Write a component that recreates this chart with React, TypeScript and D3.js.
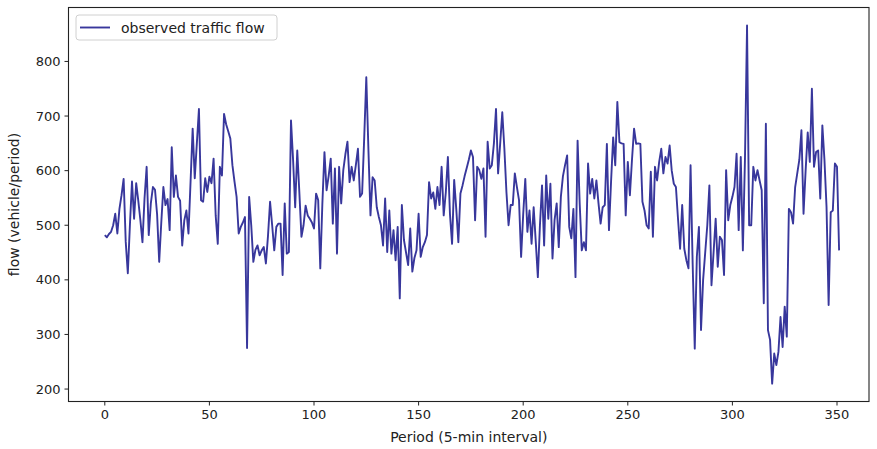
import React from "react";
import * as d3 from "d3";

const flow: number[] = [
  482, 478, 484, 488, 500, 521, 485, 530, 555, 585,
  470, 412, 500, 580, 512, 577, 545, 510, 469, 550,
  607, 482, 540, 570, 565, 520, 433, 505, 570, 537,
  548, 491, 643, 552, 591, 552, 545, 463, 509, 527,
  485, 580, 677, 586, 650, 713, 546, 543, 586, 561,
  589, 577, 622, 518, 466, 607, 591, 704, 685, 672,
  659, 610, 580, 552, 485, 497, 505, 515, 275, 552,
  500, 433, 455, 463, 445, 454, 460, 430, 480, 543,
  500, 454, 497, 503, 503, 409, 540, 448, 451, 692,
  620, 533, 637, 560, 479, 500, 536, 518, 512, 505,
  494, 558, 546, 421, 540, 634, 564, 590, 622, 503,
  604, 448, 607, 540, 601, 630, 653, 579, 607, 582,
  610, 640, 552, 558, 660, 771, 640, 518, 588, 582,
  533, 515, 500, 463, 549, 451, 527, 448, 491, 436,
  497, 366, 537, 473, 450, 427, 494, 415, 440, 454,
  521, 442, 460, 469, 482, 579, 549, 560, 530, 570,
  537, 607, 518, 560, 625, 520, 466, 583, 530, 469,
  558, 573, 590, 605, 620, 637, 625, 509, 607, 601,
  585, 604, 479, 653, 604, 610, 650, 713, 595, 650,
  707, 640, 560, 500, 537, 537, 595, 570, 546, 442,
  520, 585, 488, 527, 466, 533, 470, 405, 500, 573,
  463, 591, 512, 576, 439, 510, 540, 460, 552, 590,
  610, 628, 497, 476, 530, 405, 655, 540, 454, 469,
  454, 613, 558, 585, 549, 582, 540, 503, 533, 537,
  649, 491, 580, 661, 610, 726, 652, 650, 649, 518,
  616, 555, 620, 677, 649, 650, 649, 543, 527, 500,
  494, 598, 479, 607, 582, 616, 640, 595, 625, 613,
  646, 600, 576, 570, 512, 457, 537, 457, 436, 421,
  610, 430, 274, 442, 497, 308, 400, 450, 500, 573,
  390, 450, 512, 424, 479, 473, 409, 601, 509, 537,
  552, 570, 631, 491, 625, 454, 620, 866, 500, 500,
  607, 582, 601, 582, 564, 357, 686, 308, 290, 210,
  265, 244, 268, 332, 277, 351, 296, 530, 524, 503,
  570, 595, 620, 674, 521, 600, 670, 616, 750, 607,
  634, 637, 549, 683, 620, 533, 354, 524, 527, 613,
  607, 454,
];

const xTicks = [0, 50, 100, 150, 200, 250, 300, 350];
const yTicks = [200, 300, 400, 500, 600, 700, 800];
const seriesName = "observed traffic flow";
const xLabel = "Period (5-min interval)";
const yLabel = "flow (vehicle/period)";

export default function App() {
  const W = 877;
  const H = 449;
  const left = 68.5;
  const right = 869;
  const top = 7.5;
  const bottom = 401.5;

  const x = d3.scaleLinear().domain([0, 350]).range([104.8, 837]);
  const yMin = d3.min(flow)!;
  const yMax = d3.max(flow)!;
  const pad = (yMax - yMin) * 0.05;
  const y = d3.scaleLinear().domain([yMin - pad, yMax + pad]).range([bottom, top]);

  const line = d3
    .line<number>()
    .x((_, i) => x(i))
    .y((d) => y(d));

  const font = "'DejaVu Sans', sans-serif";
  const color = "#38379c";

  return (
    <svg
      width={W}
      height={H}
      style={{ position: "absolute", left: 0, top: 0, background: "#fff" }}
      fontFamily={font}
    >
      <defs>
        <clipPath id="plot">
          <rect x={left} y={top} width={right - left} height={bottom - top} />
        </clipPath>
      </defs>
      <path
        d={line(flow) ?? ""}
        fill="none"
        stroke={color}
        strokeWidth={1.9}
        strokeLinejoin="round"
        clipPath="url(#plot)"
      />
      <rect
        x={left}
        y={top}
        width={right - left}
        height={bottom - top}
        fill="none"
        stroke="#222"
        strokeWidth={1.1}
      />
      {xTicks.map((t) => (
        <g key={`x${t}`}>
          <line x1={x(t)} x2={x(t)} y1={bottom} y2={bottom + 4} stroke="#222" strokeWidth={1} />
          <text x={x(t)} y={bottom + 17.5} fontSize={13} textAnchor="middle" fill="#222">
            {t}
          </text>
        </g>
      ))}
      {yTicks.map((t) => (
        <g key={`y${t}`}>
          <line x1={left - 4} x2={left} y1={y(t)} y2={y(t)} stroke="#222" strokeWidth={1} />
          <text x={left - 8} y={y(t) + 4.5} fontSize={13} textAnchor="end" fill="#222">
            {t}
          </text>
        </g>
      ))}
      <text
        x={(left + right) / 2}
        y={442}
        fontSize={14}
        textAnchor="middle"
        fill="#222"
      >
        {xLabel}
      </text>
      <text
        transform={`translate(19, ${(top + bottom) / 2}) rotate(-90)`}
        fontSize={14}
        textAnchor="middle"
        fill="#222"
      >
        {yLabel}
      </text>
      <g>
        <rect x={76} y={15} width={201} height={25} rx={3} fill="#fff" fillOpacity={0.8} stroke="#d0d0d0" />
        <line x1={80} x2={110} y1={27.5} y2={27.5} stroke={color} strokeWidth={1.9} />
        <text x={121} y={32.5} fontSize={14} fill="#222">
          {seriesName}
        </text>
      </g>
    </svg>
  );
}
